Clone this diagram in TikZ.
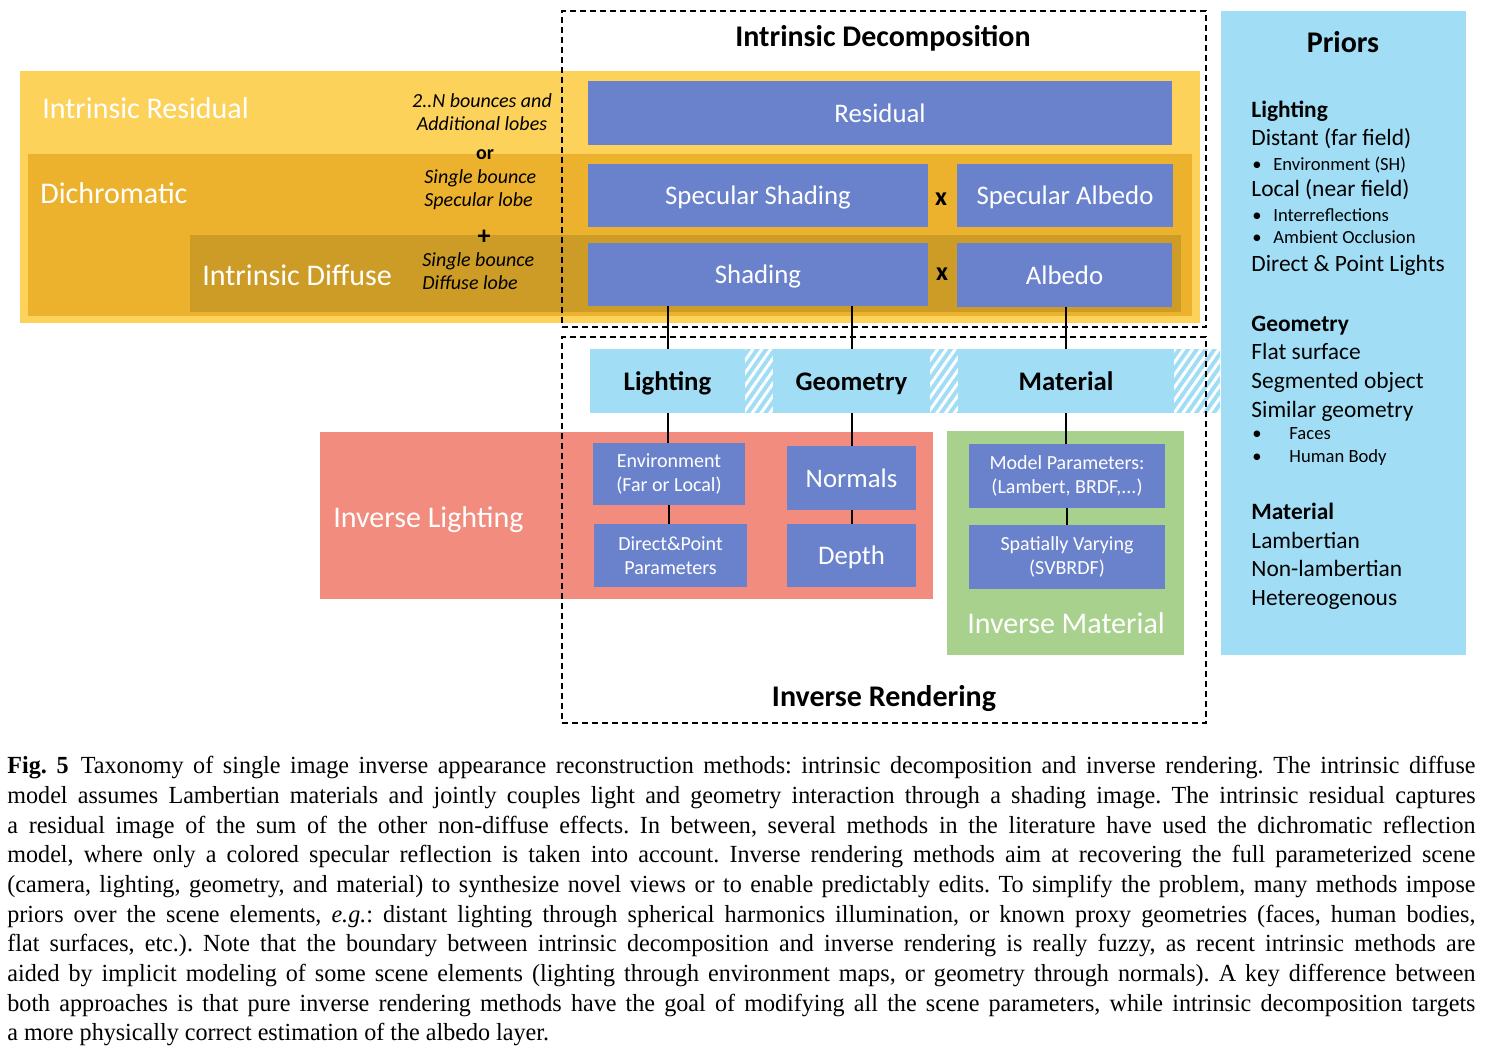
\documentclass[tikz,border=0pt]{standalone}
\usepackage{fontspec}
\setmainfont{Liberation Serif}[FakeStretch=0.98]
\newfontfamily\calfont{Carlito}
\usetikzlibrary{fit,patterns.meta}
\definecolor{boxblue}{RGB}{106,130,204}
\definecolor{skyblue}{RGB}{161,222,245}
\definecolor{yellowA}{RGB}{253,210,90}
\definecolor{yellowB}{RGB}{236,178,46}
\definecolor{yellowC}{RGB}{205,156,38}
\definecolor{salmonC}{RGB}{242,140,126}
\definecolor{greenC}{RGB}{169,209,142}
\tikzset{
 area/.style={inner sep=0, outer sep=0, draw=none},
 midline/.style={text height=9.4pt, text depth=0pt},
 bigline/.style={text height=10.4pt, text depth=0pt},
 titleline/.style={text height=10.4pt, text depth=1.5pt},
 bluebox/.style={area, midline, fill=boxblue, text=white, font=\calfont\fontsize{13.4}{16}\selectfont},
 smallbox/.style={area, fill=boxblue, text=white, font=\calfont\fontsize{10}{12}\selectfont, align=center},
 barbox/.style={area, midline, fill=skyblue, font=\calfont\bfseries\fontsize{13.4}{16}\selectfont},
 hatchbox/.style={area, preaction={fill=skyblue}, pattern={Lines[angle=55,distance=3.6pt,line width=1.5pt]}, pattern color=white},
 dashbox/.style={draw=black, dash pattern=on 3pt off 2pt, line width=0.75pt, inner sep=0, outer sep=0},
 conn/.style={line width=1pt},
 biglabel/.style={inner sep=0, bigline, text=white, font=\calfont\fontsize{15}{18}\selectfont},
 titlelabel/.style={inner sep=0, titleline, font=\calfont\bfseries\fontsize{15}{18}\selectfont},
 note/.style={inner sep=0, font=\calfont\itshape\fontsize{10}{11.5}\selectfont},
 notebold/.style={inner sep=0, font=\calfont\bfseries\fontsize{10}{12}\selectfont},
 timesign/.style={inner sep=0, font=\calfont\bfseries\fontsize{13}{15}\selectfont},
 prhead/.style={inner sep=0, anchor=base west, font=\calfont\bfseries\fontsize{11.7}{14}\selectfont},
 pritem/.style={inner sep=0, anchor=base west, font=\calfont\fontsize{11.7}{14}\selectfont},
 prsub/.style={inner sep=0, anchor=base west, font=\calfont\fontsize{9.3}{11}\selectfont},
}
\begin{document}
\begin{tikzpicture}[x=0.5pt,y=-0.5pt]
\fill[white] (0,0) rectangle (1486,1048);
\useasboundingbox (0,0) rectangle (1486,1048);
% background areas
\node[area, fill=yellowA, fit={(20,71)(1200,323)}] (resid) {};
\node[area, fill=yellowB, fit={(28,154)(1192,316)}] (dichro) {};
\node[area, fill=yellowC, fit={(190,235)(1181,312)}] (diffuse) {};
\node[area, fill=salmonC, fit={(320,432)(933,599)}] (invlight) {};
\node[area, fill=greenC, fit={(947,431)(1184,655)}] (invmat) {};
\node[area, fill=skyblue, fit={(1221,11)(1466,655)}] (priors) {};
% blue boxes
\node[bluebox, minimum width=292pt, minimum height=32pt] (residual) at (880,113) {Residual};
\node[bluebox, minimum width=170pt, minimum height=31.5pt] (specshad) at (758,195.5) {Specular Shading};
\node[bluebox, minimum width=108pt, minimum height=31.5pt] (specalb) at (1065,195.5) {Specular Albedo};
\node[bluebox, minimum width=170pt, minimum height=31.5pt] (shading) at (758,274.5) {Shading};
\node[bluebox, minimum width=107.5pt, minimum height=32pt] (albedo) at (1064.5,275) {Albedo};
% light blue bar
\node[barbox, minimum width=77.5pt, minimum height=32pt] (light) at (667.5,381) {Lighting};
\node[hatchbox, minimum width=14pt, minimum height=32pt] (h1) at (759,381) {};
\node[barbox, minimum width=78.5pt, minimum height=32pt] (geom) at (851.5,381) {Geometry};
\node[hatchbox, minimum width=14pt, minimum height=32pt] (h2) at (944,381) {};
\node[barbox, minimum width=108pt, minimum height=32pt] (mat) at (1066,381) {Material};
\node[hatchbox, minimum width=23pt, minimum height=32pt] (h3) at (1197,381) {};
% lower boxes
\node[smallbox, minimum width=76pt, minimum height=31pt] (env) at (669,474) {Environment\\(Far or Local)};
\node[smallbox, minimum width=76.5pt, minimum height=31.5pt] (dp) at (670.5,555.5) {Direct\&Point\\Parameters};
\node[bluebox, minimum width=64.5pt, minimum height=32pt] (normals) at (851.5,478) {Normals};
\node[bluebox, minimum width=64.5pt, minimum height=31.5pt] (depth) at (851.5,555.5) {Depth};
\node[smallbox, minimum width=98pt, minimum height=32pt] (model) at (1067,476) {Model Parameters:\\(Lambert, BRDF,...)};
\node[smallbox, minimum width=98pt, minimum height=32pt] (svbrdf) at (1067,557) {Spatially Varying\\(SVBRDF)};
% dashed boxes
\node[dashbox, fit={(562,11)(1206,327)}] (idbox) {};
\node[dashbox, fit={(562,337)(1206,723)}] (irbox) {};
% connectors
\draw[conn] (light.north |- shading.south) -- (light.north);
\draw[conn] (light.south) -- (light.south |- env.north);
\draw[conn] (env.south) -- (env.south |- dp.north);
\draw[conn] (geom.north |- shading.south) -- (geom.north);
\draw[conn] (geom.south) -- (geom.south |- normals.north);
\draw[conn] (normals.south) -- (normals.south |- depth.north);
\draw[conn] (mat.north |- albedo.south) -- (mat.north);
\draw[conn] (mat.south) -- (mat.south |- model.north);
\draw[conn] (model.south) -- (model.south |- svbrdf.north);
% labels
\node[biglabel, anchor=west] (tresid) at (42,108) {Intrinsic Residual};
\node[biglabel, anchor=west] (tdichro) at (40,193) {Dichromatic};
\node[biglabel, anchor=west] (tdiffuse) at (202,275) {Intrinsic Diffuse};
\node[biglabel, anchor=west] (tinvl) at (333,517) {Inverse Lighting};
\node[biglabel] (tinvm) at (1066,623) {Inverse Material};
\node[note, align=center] (n1) at (482,112) {2..N bounces and\\Additional lobes};
\node[notebold] (nor) at (485,155) {or};
\node[note, align=left, anchor=west] (n2) at (424,190) {Single bounce\\Specular lobe};
\node[timesign] (nplus) at (484,237) {+};
\node[note, align=left, anchor=west] (n3) at (422,271) {Single bounce\\Diffuse lobe};
\node[timesign] (x1) at (941,199) {x};
\node[timesign] (x2) at (942,274) {x};
\node[titlelabel] (tid) at (883,38) {Intrinsic Decomposition};
\node[titlelabel] (tir) at (884,698) {Inverse Rendering};
% priors
\node[titlelabel] (tpri) at (1343,43.5) {Priors};
\node[prhead] (p1) at (1251,118) {Lighting};
\node[pritem] (p2) at (1251,146) {Distant (far field)};
\node[prsub] (p3) at (1252,170) {\makebox[10.5pt][l]{\textbullet}Environment (SH)};
\node[pritem] (p4) at (1251,197) {Local (near field)};
\node[prsub] (p5) at (1252,221) {\makebox[10.5pt][l]{\textbullet}Interreflections};
\node[prsub] (p6) at (1252,243) {\makebox[10.5pt][l]{\textbullet}Ambient Occlusion};
\node[pritem] (p7) at (1251,271) {Direct \& Point Lights};
\node[prhead] (p8) at (1251,331) {Geometry};
\node[pritem] (p9) at (1251,359) {Flat surface};
\node[pritem] (p10) at (1251,388) {Segmented object};
\node[pritem] (p11) at (1251,417) {Similar geometry};
\node[prsub] (p12) at (1252,439) {\makebox[18.5pt][l]{\textbullet}Faces};
\node[prsub] (p13) at (1252,462) {\makebox[18.5pt][l]{\textbullet}Human Body};
\node[prhead] (p14) at (1251,519) {Material};
\node[pritem] (p15) at (1251,548) {Lambertian};
\node[pritem] (p16) at (1251,576) {Non-lambertian};
\node[pritem] (p17) at (1251,605) {Hetereogenous};
% caption
\node[anchor=north west, inner sep=0, text width=734pt, align=justify,
      font=\fontsize{12.3}{14.83}\selectfont\frenchspacing] (caption) at (7,756) {%
\textbf{Fig.~5}\hspace{0.5em}Taxonomy of single image inverse appearance reconstruction methods: intrinsic decomposition and inverse rendering. The intrinsic diffuse\linebreak
model assumes Lambertian materials and jointly couples light and geometry interaction through a shading image. The intrinsic residual captures\linebreak
a residual image of the sum of the other non-diffuse effects. In between, several methods in the literature have used the dichromatic reflection\linebreak
model, where only a colored specular reflection is taken into account. Inverse rendering methods aim at recovering the full parameterized scene\linebreak
(camera, lighting, geometry, and material) to synthesize novel views or to enable predictably edits. To simplify the problem, many methods impose\linebreak
priors over the scene elements, \textit{e.g.}: distant lighting through spherical harmonics illumination, or known proxy geometries (faces, human bodies,\linebreak
flat surfaces, etc.). Note that the boundary between intrinsic decomposition and inverse rendering is really fuzzy, as recent intrinsic methods are\linebreak
aided by implicit modeling of some scene elements (lighting through environment maps, or geometry through normals). A key difference between\linebreak
both approaches is that pure inverse rendering methods have the goal of modifying all the scene parameters, while intrinsic decomposition targets\linebreak
a more physically correct estimation of the albedo layer.};
\end{tikzpicture}
\end{document}
